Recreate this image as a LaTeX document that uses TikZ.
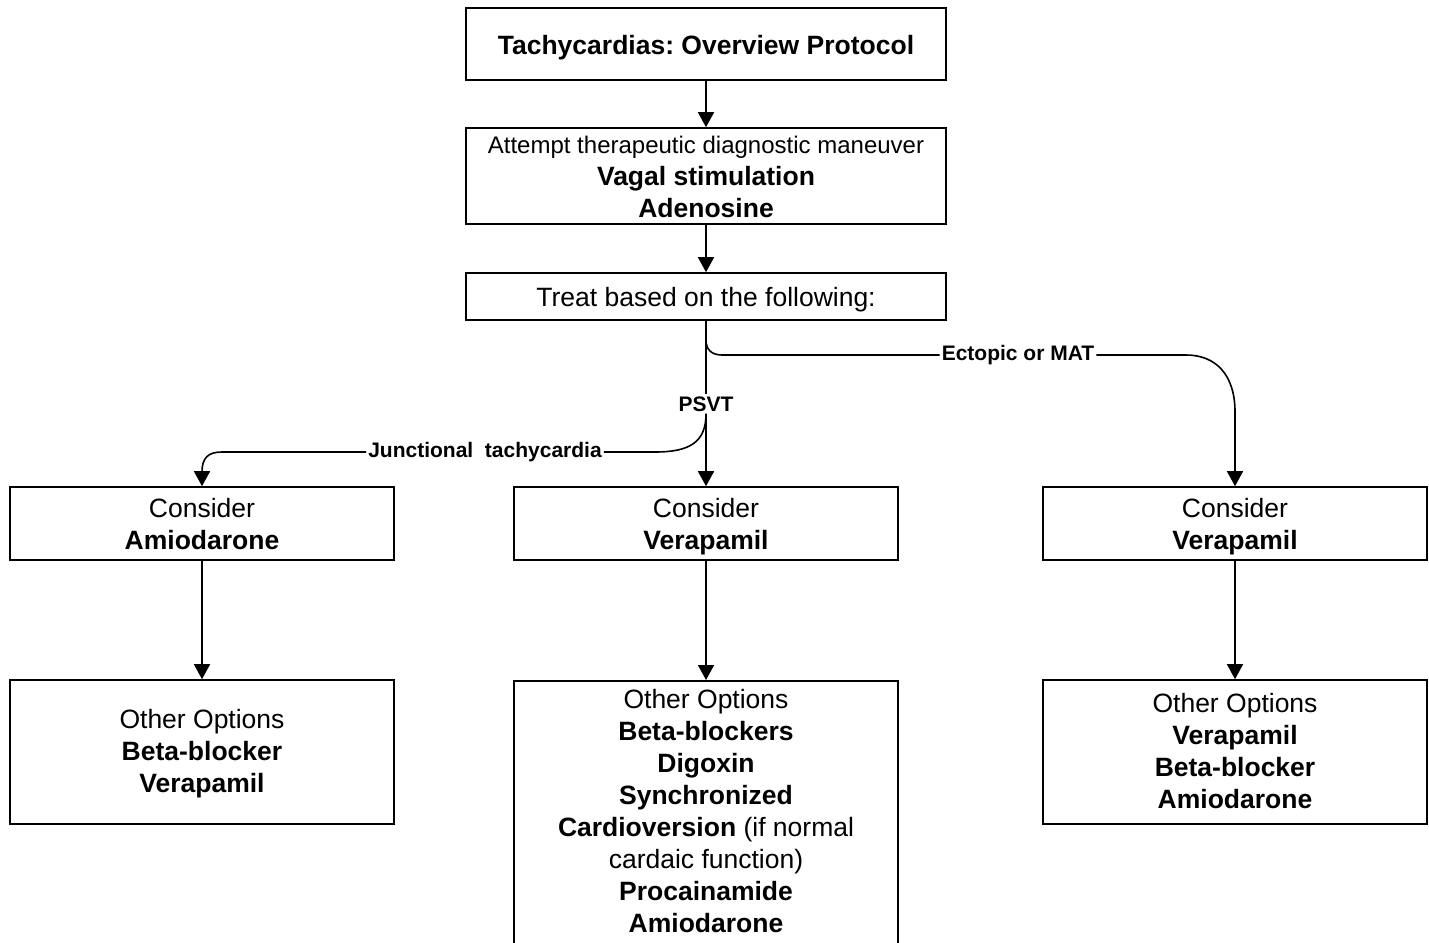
\documentclass[tikz,border=0pt]{standalone}
\usepackage{fontspec}
\setmainfont{Liberation Sans}
\usetikzlibrary{arrows.meta}
\frenchspacing
% struts that fix the first line's height and the last line's depth
\newcommand\topstrut{\rule[-9.6pt]{0pt}{40pt}}
\newcommand\midstrut{\rule[-9.6pt]{0pt}{36pt}}
\newcommand\botstrut{\rule[-9.6pt]{0pt}{32pt}}
\begin{document}
\begin{tikzpicture}[x=1pt,y=-1pt,
  box/.style={draw, line width=1.6pt, inner sep=0pt, align=center,
    font=\fontsize{26.5}{32}\selectfont},
  txt/.style={inner sep=0pt, align=center, font=\fontsize{26.5}{32}\selectfont},
  link/.style={line width=1.6pt},
  arr/.style={link, -{Triangle[length=15pt,width=16pt]}},
  lbl/.style={fill=white, inner sep=2pt, font=\bfseries\fontsize{21}{24}\selectfont}]
\path[use as bounding box, clip] (0,0) rectangle (1429,942);

% main column
\node[box, minimum width=480pt, minimum height=72pt] (title) at (706,44)
  {\topstrut\textbf{Tachycardias: Overview Protocol}\botstrut};
\node[box, minimum width=480pt, minimum height=96pt, inner ysep=-4pt] (vagal) at (706,176)
  {\rule[-9.6pt]{0pt}{38pt}{\fontsize{24}{32}\selectfont Attempt therapeutic diagnostic maneuver}\\
   \textbf{Vagal stimulation}\\ \textbf{Adenosine}\botstrut};
\node[box, minimum width=480pt, minimum height=47pt] (treat) at (706,296.5)
  {\topstrut Treat based on the following:\botstrut};

% first choices
\node[box, minimum width=384pt, minimum height=73pt] (leftcon) at (202,523.5)
  {\topstrut Consider\\ \textbf{Amiodarone}\botstrut};
\node[box, minimum width=384pt, minimum height=73pt] (midcon) at (706,523.5)
  {\topstrut Consider\\ \textbf{Verapamil}\botstrut};
\node[box, minimum width=384pt, minimum height=73pt] (rightcon) at (1235,523.5)
  {\topstrut Consider\\ \textbf{Verapamil}\botstrut};

% other options
\node[box, minimum width=384pt, minimum height=144pt] (leftoth) at (202,752)
  {\midstrut Other Options\\ \textbf{Beta-blocker}\\ \textbf{Verapamil}\botstrut};
\node[box, minimum width=384pt, minimum height=144pt] (rightoth) at (1235,752)
  {\midstrut Other Options\\ \textbf{Verapamil}\\ \textbf{Beta-blocker}\\ \textbf{Amiodarone}\botstrut};
\node[draw, line width=1.6pt, inner sep=0pt, minimum width=384pt, minimum height=310pt,
  anchor=north] (midoth) at (706,680) {};
\node[txt] (midtxt) at (706,810.5)
  {\topstrut Other Options\\ \textbf{Beta-blockers}\\ \textbf{Digoxin}\\ \textbf{Synchronized}\\
   \textbf{Cardioversion} (if normal\\ cardaic function)\\ \textbf{Procainamide}\\
   \textbf{Amiodarone}\botstrut};

% branch labels
\node[lbl] (psvt) at (706,404) {PSVT};
\node[lbl] (junc) at (485,452) {Junctional\ \ tachycardia};
\node[lbl] (ecto) at (1018,355) {Ectopic or MAT};

% connectors
\draw[arr] (title) -- (vagal);
\draw[arr] (vagal) -- (treat);
\draw[link] (treat.south) -- (psvt.north);
\draw[arr] (psvt.south) -- (midcon.north);
\draw[link] (treat.south) -- (706,340) .. controls (706,350) and (712,355) .. (722,355) -- (ecto.west);
\draw[arr] (ecto.east) -- (1186,355) .. controls (1216,355) and (1235,375) .. (1235,412) -- (rightcon.north);
\draw[link] (psvt.south) .. controls (706,442) and (690,452) .. (655,452) -- (junc.east);
\draw[arr] (junc.west) -- (222,452) .. controls (208,452) and (202,458) .. (202,472) -- (leftcon.north);
\draw[arr] (leftcon) -- (leftoth);
\draw[arr] (midcon) -- (midoth.north);
\draw[arr] (rightcon) -- (rightoth);
\end{tikzpicture}
\end{document}
